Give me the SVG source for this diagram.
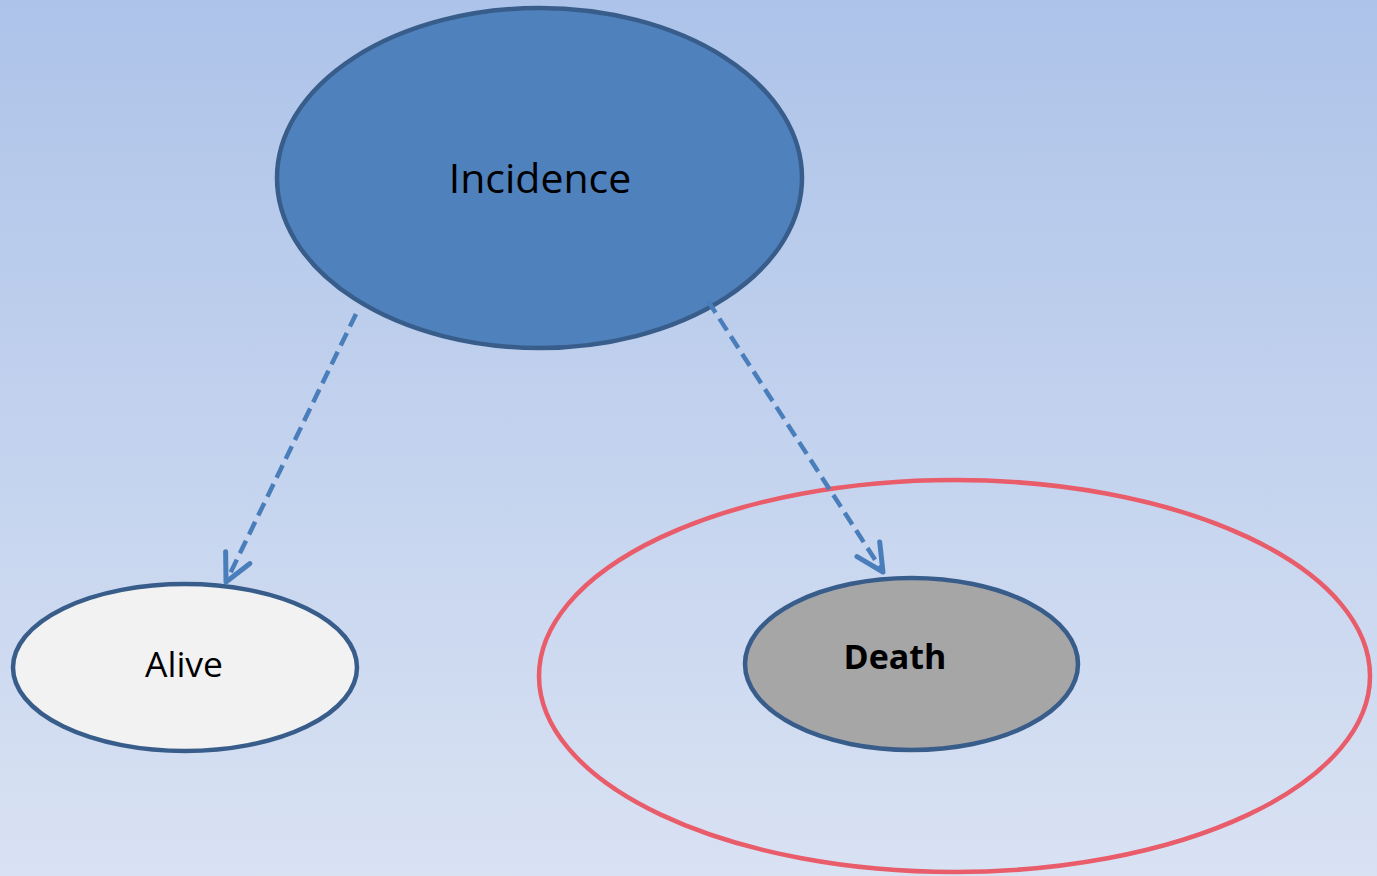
<svg xmlns="http://www.w3.org/2000/svg" width="1377" height="876" viewBox="0 0 1377 876">
  <defs>
    <linearGradient id="bg" x1="0" y1="0" x2="0" y2="1">
      <stop offset="0" stop-color="#adc3e9"/>
      <stop offset="1" stop-color="#d9e2f3"/>
    </linearGradient>
    <marker id="arrow" markerUnits="userSpaceOnUse" markerWidth="40" markerHeight="40" viewBox="-35 -20 40 40" refX="0" refY="0" orient="auto" overflow="visible">
      <path d="M -27 -13.5 L 0 0 L -27 13.5" fill="none" stroke="#4a7ebb" stroke-width="5" stroke-linecap="round" stroke-linejoin="round" stroke-dasharray="none"/>
    </marker>
  </defs>
  <style>
    .node { stroke: #385d8a; stroke-width: 4.5; }
    .label { font-family: "Open Sans", "Liberation Sans", sans-serif; fill: #000; text-anchor: middle; dominant-baseline: central; }
    .conn { fill: none; stroke: #4a7ebb; stroke-width: 4.5; stroke-dasharray: 14 7; marker-end: url(#arrow); }
  </style>
  <rect x="0" y="0" width="1377" height="876" fill="url(#bg)"/>

  <g id="group-death-region">
    <ellipse cx="954.5" cy="676" rx="415.5" ry="196" fill="none" stroke="#e95c6a" stroke-width="4.5"/>
  </g>

  <g id="incidence">
    <ellipse class="node" cx="539.5" cy="178" rx="262.5" ry="170" fill="#4f81bd"/>
    <text class="label" x="540" y="177" font-size="41">Incidence</text>
  </g>

  <g id="alive">
    <ellipse class="node" cx="185" cy="667.5" rx="172" ry="83.5" fill="#f2f2f2"/>
    <text class="label" x="184" y="663" font-size="35.5">Alive</text>
  </g>

  <g id="death">
    <ellipse class="node" cx="911.5" cy="664" rx="166.5" ry="86" fill="#a6a6a6"/>
    <text class="label" x="895" y="656" font-size="34" font-weight="bold">Death</text>
  </g>

  <g id="connectors">
    <line class="conn" x1="356" y1="314" x2="226" y2="582"/>
    <line class="conn" x1="708" y1="301" x2="883" y2="572"/>
  </g>
</svg>
